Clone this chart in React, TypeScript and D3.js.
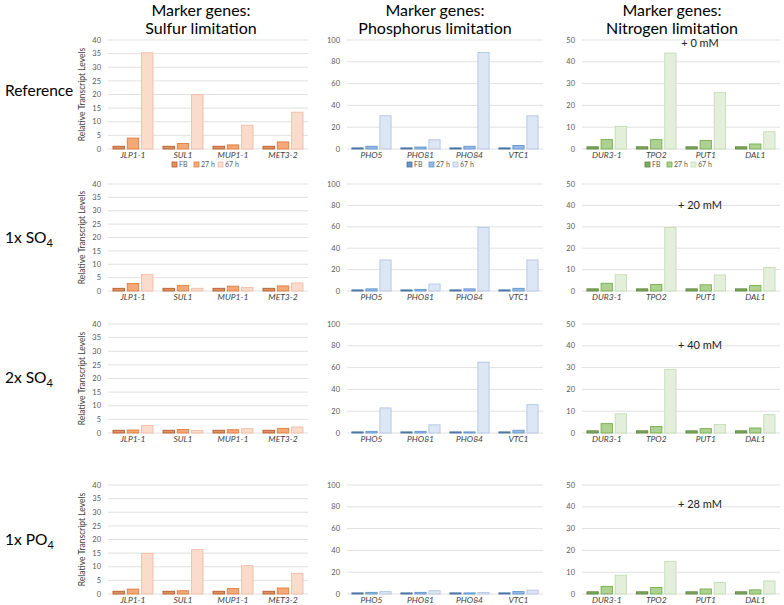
import React, { useEffect, useRef } from "react";
import * as d3 from "d3";

const timepoints = ["FB", "27 h", "67 h"];
const sulfurGenes = ["JLP1-1", "SUL1", "MUP1-1", "MET3-2"];
const phosphorusGenes = ["PHO5", "PHO81", "PHO84", "VTC1"];
const nitrogenGenes = ["DUR3-1", "TPO2", "PUT1", "DAL1"];
const columnTitles = ["Sulfur limitation", "Phosphorus limitation", "Nitrogen limitation"];
const rowLabels = ["Reference", "1x SO", "2x SO", "1x PO"];
const rowSubscripts = ["", "4", "4", "4"];
const nitrogenAdditions = ["+ 0 mM", "+ 20 mM", "+ 40 mM", "+ 28 mM"];

// [FB, 27 h, 67 h] for each gene
const sulfurReference = [[1, 4, 35.3], [1, 2, 20], [1, 1.5, 8.7], [1, 2.6, 13.5]];
const sulfur1xSO4 = [[1, 2.8, 6.2], [1, 2.1, 1], [1, 1.8, 1.3], [1, 1.9, 3]];
const sulfur2xSO4 = [[1, 1.1, 2.8], [1, 1.3, 0.9], [1, 1.2, 1.6], [1, 1.7, 2.2]];
const sulfur1xPO4 = [[1, 1.8, 14.9], [1, 1.2, 16.3], [1, 2, 10.4], [1, 2.2, 7.6]];

const phosphorusReference = [[1, 2.5, 30.5], [1, 1.8, 8.5], [1, 2.5, 88.5], [1, 3.2, 30.5]];
const phosphorus1xSO4 = [[1, 2, 29], [1, 1.5, 6.5], [1, 2, 59.5], [1, 2.5, 29]];
const phosphorus2xSO4 = [[1, 1.5, 23], [1, 1.5, 7.5], [1, 1, 65], [1, 2.5, 26]];
const phosphorus1xPO4 = [[1, 1.5, 2.2], [1, 1.5, 3], [1, 1, 1.5], [1, 2.2, 3.5]];

const nitrogenReference = [[1, 4.3, 10.4], [1, 4.3, 44], [1, 3.9, 26], [1, 2.3, 7.9]];
const nitrogen1xSO4 = [[1, 3.6, 7.6], [1, 3, 29.7], [1, 2.9, 7.5], [1, 2.6, 11]];
const nitrogen2xSO4 = [[1, 4.3, 8.8], [1, 3, 29.2], [1, 2, 3.9], [1, 2.3, 8.4]];
const nitrogen1xPO4 = [[1, 3.5, 8.6], [1, 3, 15], [1, 2.3, 5.3], [1, 1.9, 6]];

const font = "Lato, 'Open Sans', sans-serif";

const columns = [
  {
    genes: sulfurGenes,
    rows: [sulfurReference, sulfur1xSO4, sulfur2xSO4, sulfur1xPO4],
    x0: 108, x1: 308, yMax: 40, step: 5, center: 201, legendX: 172,
    fills: ["#de9264", "#f3a877", "#fadbcc"],
    strokes: ["#b95c2b", "#e27d3f", "#f3bca5"],
    axisTitle: true,
  },
  {
    genes: phosphorusGenes,
    rows: [phosphorusReference, phosphorus1xSO4, phosphorus2xSO4, phosphorus1xPO4],
    x0: 347, x1: 543, yMax: 100, step: 20, center: 435, legendX: 407,
    fills: ["#6f94c6", "#98b9e2", "#dce6f4"],
    strokes: ["#45709f", "#6297cf", "#b3c6e3"],
    axisTitle: false,
  },
  {
    genes: nitrogenGenes,
    rows: [nitrogenReference, nitrogen1xSO4, nitrogen2xSO4, nitrogen1xPO4],
    x0: 582, x1: 780, yMax: 50, step: 10, center: 672, legendX: 645,
    fills: ["#82ab63", "#acd191", "#e3efdb"],
    strokes: ["#5a8639", "#76ae4e", "#c4ddb3"],
    axisTitle: false,
  },
];

const rowBands = [
  { top: 40, bottom: 149 },
  { top: 184, bottom: 291 },
  { top: 324, bottom: 433 },
  { top: 485, bottom: 594 },
];
const rowLabelY = [96, 243, 383, 545];

export default function App() {
  const ref = useRef<SVGSVGElement>(null);

  useEffect(() => {
    const svg = d3.select(ref.current);
    svg.selectAll("*").remove();

    // column titles
    columns.forEach((col, ci) => {
      svg.append("text")
        .attr("x", col.center).attr("y", 16)
        .attr("text-anchor", "middle").attr("font-size", 16)
        .attr("fill", "#000").attr("font-family", font)
        .text("Marker genes:");
      svg.append("text")
        .attr("x", col.center).attr("y", 34)
        .attr("text-anchor", "middle").attr("font-size", 16)
        .attr("fill", "#000").attr("font-family", font)
        .text(columnTitles[ci]);
    });

    // row labels
    rowLabels.forEach((lab, ri) => {
      const t = svg.append("text")
        .attr("x", 5).attr("y", rowLabelY[ri])
        .attr("font-size", 15.5).attr("font-family", font).attr("fill", "#000");
      t.append("tspan").text(lab);
      if (rowSubscripts[ri]) {
        t.append("tspan").attr("dy", 4).attr("font-size", 11).text(rowSubscripts[ri]);
      }
    });

    columns.forEach((col) => {
      const x = d3.scaleBand<string>()
        .domain(col.genes)
        .range([col.x0, col.x1])
        .paddingInner(0.2)
        .paddingOuter(0.1);
      const xs = d3.scaleBand<string>()
        .domain(timepoints)
        .range([0, x.bandwidth()])
        .paddingInner(0.2);

      col.rows.forEach((vals, ri) => {
        const band = rowBands[ri];
        const y = d3.scaleLinear().domain([0, col.yMax]).range([band.bottom, band.top]);
        const ticks = d3.range(0, col.yMax + 0.001, col.step);
        const g = svg.append("g");

        g.selectAll("line.grid")
          .data(ticks)
          .enter()
          .append("line")
          .attr("x1", col.x0).attr("x2", col.x1)
          .attr("y1", (d) => y(d)).attr("y2", (d) => y(d))
          .attr("stroke", "#d9d9d9").attr("stroke-width", 0.8);

        g.selectAll("text.tick")
          .data(ticks)
          .enter()
          .append("text")
          .attr("x", col.x0 - 7).attr("y", (d) => y(d))
          .attr("dy", "0.35em").attr("text-anchor", "end")
          .attr("font-size", 7.5).attr("font-family", font).attr("fill", "#595959")
          .text((d) => d);

        col.genes.forEach((gene, gi) => {
          g.selectAll(null)
            .data(vals[gi])
            .enter()
            .append("rect")
            .attr("x", (d, i) => (x(gene) as number) + (xs(timepoints[i]) as number))
            .attr("y", (d) => y(d))
            .attr("width", xs.bandwidth())
            .attr("height", (d) => band.bottom - y(d))
            .attr("fill", (d, i) => col.fills[i])
            .attr("stroke", (d, i) => col.strokes[i])
            .attr("stroke-width", 0.9);

          g.append("text")
            .attr("x", (x(gene) as number) + x.bandwidth() / 2)
            .attr("y", band.bottom + 9)
            .attr("text-anchor", "middle")
            .attr("font-size", 8.5).attr("font-style", "italic")
            .attr("font-family", font).attr("fill", "#404040")
            .text(gene);
        });

        if (col.axisTitle) {
          g.append("text")
            .attr("transform", `translate(85,${(band.top + band.bottom) / 2}) rotate(-90)`)
            .attr("text-anchor", "middle")
            .attr("font-size", 8.5).attr("font-family", font).attr("fill", "#404040")
            .text("Relative Transcript Levels");
        }

        if (col.genes === nitrogenGenes) {
          const ay = ri === 0 ? band.top + 7 : ri === 3 ? band.top + 23 : band.top + 25;
          g.append("text")
            .attr("x", 700).attr("y", ay)
            .attr("text-anchor", "middle")
            .attr("font-size", 11).attr("font-family", font).attr("fill", "#222")
            .text(nitrogenAdditions[ri]);
        }

        // legend only under the first row
        if (ri === 0) {
          const lg = g.append("g").attr("transform", `translate(${col.legendX},${band.bottom + 18})`);
          const offs = [0, 22, 46];
          timepoints.forEach((tp, i) => {
            lg.append("rect")
              .attr("x", offs[i]).attr("y", -5).attr("width", 5).attr("height", 5)
              .attr("fill", col.fills[i]).attr("stroke", col.strokes[i]).attr("stroke-width", 0.8);
            lg.append("text")
              .attr("x", offs[i] + 7).attr("y", 0)
              .attr("font-size", 7).attr("font-family", font).attr("fill", "#595959")
              .text(tp);
          });
        }
      });
    });
  }, []);

  return (
    <svg
      ref={ref}
      width={784}
      height={605}
      style={{ position: "absolute", left: 0, top: 0, background: "#fff" }}
    />
  );
}
